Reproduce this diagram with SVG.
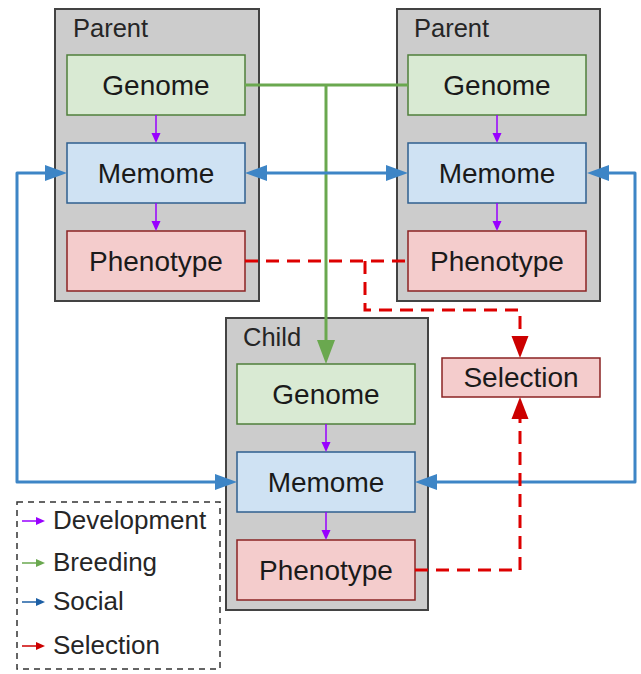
<svg xmlns="http://www.w3.org/2000/svg" width="641" height="674" viewBox="0 0 641 674">
<defs>
<style>
.cont{fill:#cccccc;stroke:#434343;stroke-width:2}
.gen{fill:#d9ead3;stroke:#4f7f3b;stroke-width:1.5}
.mem{fill:#cfe2f3;stroke:#2f5f8f;stroke-width:1.5}
.phe{fill:#f4cccc;stroke:#8b2323;stroke-width:1.5}
.lbl{font-family:"Liberation Sans",Arial,sans-serif;font-size:28px;fill:#1a1a1a;text-anchor:middle}
.ttl{font-family:"Liberation Sans",Arial,sans-serif;font-size:25.5px;fill:#262626}
.leg{font-family:"Liberation Sans",Arial,sans-serif;font-size:26px;fill:#262626}
.dev{stroke:#9900ff;stroke-width:1.5;fill:none}
.blue{stroke:#3d85c6;stroke-width:3;fill:none;stroke-linejoin:round}
.green{stroke:#6aa84f;stroke-width:3;fill:none}
.red{stroke:#dd0000;stroke-width:3;fill:none;stroke-dasharray:13 8}
</style>
<marker id="mb" markerUnits="userSpaceOnUse" markerWidth="24" markerHeight="18" refX="0" refY="8" orient="auto-start-reverse" overflow="visible"><path d="M0,0 L22,8 L0,16 z" fill="#3d85c6"/></marker>
<marker id="mg" markerUnits="userSpaceOnUse" markerWidth="26" markerHeight="20" refX="0" refY="9" orient="auto" overflow="visible"><path d="M0,0 L24,9 L0,18 z" fill="#6aa84f"/></marker>
<marker id="mr" markerUnits="userSpaceOnUse" markerWidth="24" markerHeight="18" refX="0" refY="8.5" orient="auto" overflow="visible"><path d="M0,0 L22,8.5 L0,17 z" fill="#cc0000"/></marker>
<marker id="mp" markerUnits="userSpaceOnUse" markerWidth="12" markerHeight="10" refX="0" refY="4.5" orient="auto" overflow="visible"><path d="M0,0 L10,4.5 L0,9 z" fill="#9900ff"/></marker>
<marker id="lp" markerUnits="userSpaceOnUse" markerWidth="10" markerHeight="10" refX="0" refY="4" orient="auto" overflow="visible"><path d="M0,0 L9,4 L0,8 z" fill="#9900ff"/></marker>
<marker id="lg" markerUnits="userSpaceOnUse" markerWidth="10" markerHeight="10" refX="0" refY="4" orient="auto" overflow="visible"><path d="M0,0 L9,4 L0,8 z" fill="#6aa84f"/></marker>
<marker id="lb" markerUnits="userSpaceOnUse" markerWidth="10" markerHeight="10" refX="0" refY="4" orient="auto" overflow="visible"><path d="M0,0 L9,4 L0,8 z" fill="#1c5fa5"/></marker>
<marker id="lr" markerUnits="userSpaceOnUse" markerWidth="10" markerHeight="10" refX="0" refY="4" orient="auto" overflow="visible"><path d="M0,0 L9,4 L0,8 z" fill="#cc0000"/></marker>
</defs>
<rect width="641" height="674" fill="#ffffff"/>

<g id="parent-left">
<rect class="cont" x="55" y="9" width="204" height="292"/>
<text class="ttl" x="73" y="37">Parent</text>
<g id="pl-genome"><rect class="gen" x="67" y="55" width="178" height="60"/><text class="lbl" x="156" y="95">Genome</text></g>
<g id="pl-memome"><rect class="mem" x="67" y="143" width="178" height="60"/><text class="lbl" x="156" y="183">Memome</text></g>
<g id="pl-phenotype"><rect class="phe" x="67" y="231" width="178" height="60"/><text class="lbl" x="156" y="271">Phenotype</text></g>
</g>

<g id="parent-right">
<rect class="cont" x="397" y="9" width="203" height="292"/>
<text class="ttl" x="414" y="37">Parent</text>
<g id="pr-genome"><rect class="gen" x="408" y="55" width="178" height="60"/><text class="lbl" x="497" y="95">Genome</text></g>
<g id="pr-memome"><rect class="mem" x="408" y="143" width="178" height="60"/><text class="lbl" x="497" y="183">Memome</text></g>
<g id="pr-phenotype"><rect class="phe" x="408" y="231" width="178" height="60"/><text class="lbl" x="497" y="271">Phenotype</text></g>
</g>

<g id="child">
<rect class="cont" x="226" y="318" width="202" height="292"/>
<text class="ttl" x="243" y="346">Child</text>
<g id="c-genome"><rect class="gen" x="237" y="364" width="178" height="60"/><text class="lbl" x="326" y="404">Genome</text></g>
<g id="c-memome"><rect class="mem" x="237" y="452" width="178" height="60"/><text class="lbl" x="326" y="492">Memome</text></g>
<g id="c-phenotype"><rect class="phe" x="237" y="540" width="178" height="60"/><text class="lbl" x="326" y="580">Phenotype</text></g>
</g>

<g id="selection">
<rect class="phe" x="442" y="358" width="158" height="39"/>
<text class="lbl" x="521" y="387">Selection</text>
</g>

<g id="connectors">
<path class="dev" d="M156,115 V133" marker-end="url(#mp)"/>
<path class="dev" d="M156,203 V221" marker-end="url(#mp)"/>
<path class="dev" d="M497,115 V133" marker-end="url(#mp)"/>
<path class="dev" d="M497,203 V221" marker-end="url(#mp)"/>
<path class="dev" d="M326,424 V442" marker-end="url(#mp)"/>
<path class="dev" d="M326,512 V530" marker-end="url(#mp)"/>

<path class="green" d="M245,85 H408"/>
<path class="green" d="M326,85 V340" marker-end="url(#mg)"/>

<path class="blue" d="M45,173 H17 V482 H215" marker-start="url(#mb)" marker-end="url(#mb)"/>
<path class="blue" d="M267,173 H386" marker-start="url(#mb)" marker-end="url(#mb)"/>
<path class="blue" d="M609,173 H635 V482 H437" marker-start="url(#mb)" marker-end="url(#mb)"/>

<path class="red" d="M245,261 H408"/>
<path class="red" d="M365,261 V310 H520 V336" marker-end="url(#mr)"/>
<path class="red" d="M415,570 H520 V419" marker-end="url(#mr)"/>
</g>

<g id="legend">
<rect x="17" y="502" width="203" height="167" fill="none" stroke="#333333" stroke-width="1.5" stroke-dasharray="6 5"/>
<path d="M22,521 H36" stroke="#9900ff" stroke-width="1.5" marker-end="url(#lp)"/>
<text class="leg" x="53" y="529">Development</text>
<path d="M22,563 H36" stroke="#6aa84f" stroke-width="1.5" marker-end="url(#lg)"/>
<text class="leg" x="53" y="571">Breeding</text>
<path d="M22,602 H36" stroke="#1c5fa5" stroke-width="1.5" marker-end="url(#lb)"/>
<text class="leg" x="53" y="610">Social</text>
<path d="M22,646 H36" stroke="#cc0000" stroke-width="1.5" marker-end="url(#lr)"/>
<text class="leg" x="53" y="654">Selection</text>
</g>
</svg>
